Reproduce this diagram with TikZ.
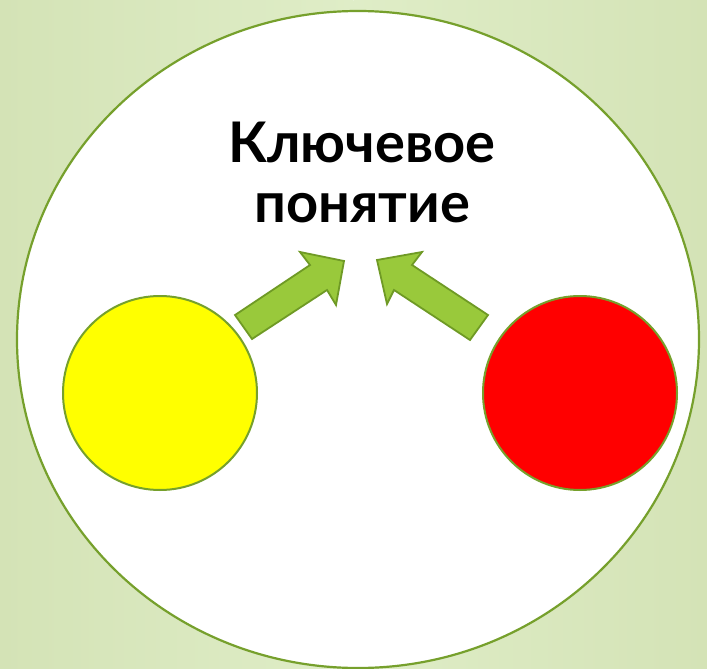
\documentclass[tikz,border=0pt]{standalone}
\usepackage{fontspec}
\setmainfont{Lato}
\usepackage{xcolor}
\usepackage{tikz}
\definecolor{bgdark}{HTML}{D4E3B6}
\definecolor{bglight}{HTML}{DFEDC7}
\definecolor{rimgreen}{HTML}{76A02C}
\definecolor{arrowfill}{HTML}{99C93B}
\definecolor{arrowline}{HTML}{6F9A25}
\definecolor{discyellow}{RGB}{255,255,0}
\definecolor{discred}{RGB}{255,0,0}

\begin{document}
\begin{tikzpicture}[
  x=1pt, y=-1pt,
  disc/.style={draw=rimgreen, line width=2pt, circle, minimum size=194pt, inner sep=0pt},
  blockarrow/.style={draw=arrowline, line width=1.8pt, fill=arrowfill, line join=miter},
  label/.style={font=\bfseries\fontsize{56}{60}\selectfont, align=center, inner sep=0pt}
]
\useasboundingbox (0,0) rectangle (707,669);
\shade[left color=bgdark, right color=bglight] (0,0) rectangle (353.5,669);
\shade[left color=bglight, right color=bgdark] (353.5,0) rectangle (707,669);

\draw[draw=rimgreen, line width=2.2pt, fill=white] (358,339.5) ellipse [x radius=341, y radius=328.5];
\node[label] (key) at (362,172) {Ключевое\\понятие};

\node[disc, fill=discyellow] (yellow) at (160,393) {};
\node[disc, fill=discred] (red) at (580,393) {};

% arrows towards the key notion
\draw[blockarrow] (235,315) -- (310,265) -- (300,252) -- (344,261) -- (336,305) -- (327,290) -- (252,339) -- cycle;
\draw[blockarrow] (488,315) -- (412,265) -- (422,252) -- (377,260) -- (387,304) -- (394,290) -- (470,340) -- cycle;
\end{tikzpicture}
\end{document}
